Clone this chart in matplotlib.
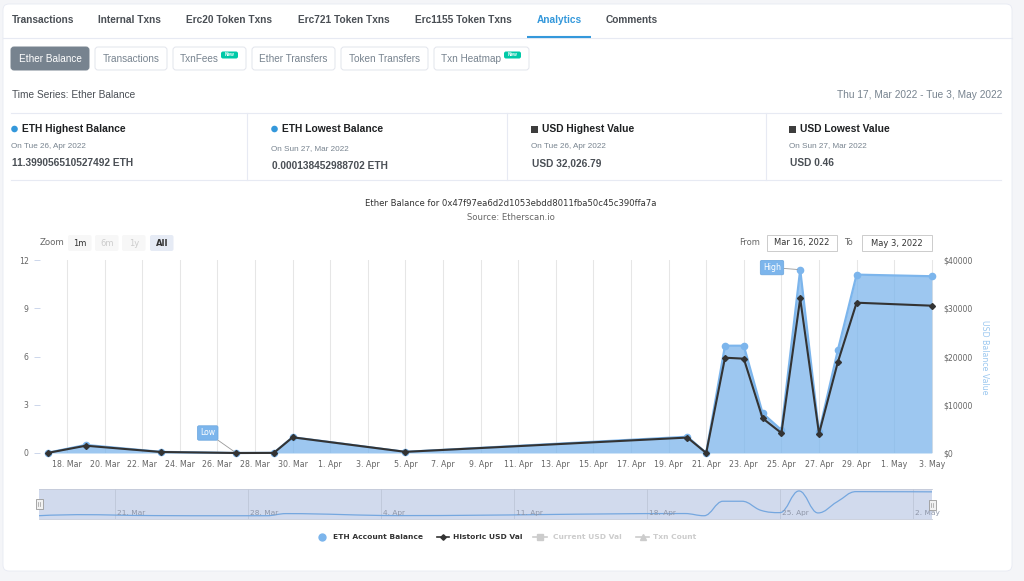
import matplotlib
matplotlib.use("Agg")
import matplotlib.pyplot as plt
import matplotlib.dates as mdates
import matplotlib.transforms as mtrans
import pandas as pd
from matplotlib.patches import FancyBboxPatch, Rectangle, Circle, PathPatch
from matplotlib.path import Path

W, H = 1024, 581

# ---- data ----
dates = ["2022-03-17", "2022-03-19", "2022-03-23", "2022-03-27", "2022-03-29",
         "2022-03-30", "2022-04-05", "2022-04-20", "2022-04-21", "2022-04-22",
         "2022-04-23", "2022-04-24", "2022-04-25", "2022-04-26", "2022-04-27",
         "2022-04-28", "2022-04-29", "2022-05-03"]
eth_balance = [0.02, 0.50, 0.07, 0.000138, 0.01, 0.98, 0.07, 1.01, 0.003, 6.67,
               6.67, 2.47, 1.43, 11.399, 1.29, 6.38, 11.09, 10.99]
usd_value = [40, 1510, 210, 0.46, 20, 3250, 240, 3200, 10, 19750,
             19550, 7190, 4140, 32026.79, 4000, 18800, 31150, 30530]

main_ticks = ["2022-03-18", "2022-03-20", "2022-03-22", "2022-03-24", "2022-03-26",
              "2022-03-28", "2022-03-30", "2022-04-01", "2022-04-03", "2022-04-05",
              "2022-04-07", "2022-04-09", "2022-04-11", "2022-04-13", "2022-04-15",
              "2022-04-17", "2022-04-19", "2022-04-21", "2022-04-23", "2022-04-25",
              "2022-04-27", "2022-04-29", "2022-05-01", "2022-05-03"]
nav_ticks = ["2022-03-21", "2022-03-28", "2022-04-04", "2022-04-11",
             "2022-04-18", "2022-04-25", "2022-05-02"]
eth_ticks = [0, 3, 6, 9, 12]
usd_ticks = [0, 10000, 20000, 30000, 40000]

tabs = ["Transactions", "Internal Txns", "Erc20 Token Txns", "Erc721 Token Txns",
        "Erc1155 Token Txns", "Analytics", "Comments"]
stats = [("ETH Highest Balance", "On Tue 26, Apr 2022", "11.399056510527492 ETH"),
         ("ETH Lowest Balance", "On Sun 27, Mar 2022", "0.000138452988702 ETH"),
         ("USD Highest Value", "On Tue 26, Apr 2022", "USD 32,026.79"),
         ("USD Lowest Value", "On Sun 27, Mar 2022", "USD 0.46")]

PAGE = "Liberation Sans"
BLUE = "#7cb5ec"
DARK = "#333333"

x = mdates.date2num(pd.to_datetime(dates))
tick_dt = pd.to_datetime(main_ticks)
nav_dt = pd.to_datetime(nav_ticks)


def fx(px):
    return px / W


def fy(py):
    return 1 - py / H


def spline_path(xs, ys):
    # highcharts style spline
    n = len(xs)
    lc, rc = [None] * n, [None] * n
    for i in range(1, n - 1):
        cx, cy = xs[i], ys[i]
        lx, ly = xs[i - 1], ys[i - 1]
        nx, ny = xs[i + 1], ys[i + 1]
        lcx, lcy = (1.5 * cx + lx) / 2.5, (1.5 * cy + ly) / 2.5
        rcx, rcy = (1.5 * cx + nx) / 2.5, (1.5 * cy + ny) / 2.5
        if rcx != lcx:
            corr = (rcy - lcy) * (rcx - cx) / (rcx - lcx) + cy - rcy
            lcy += corr
            rcy += corr
        if lcy > ly and lcy > cy:
            lcy = max(ly, cy); rcy = 2 * cy - lcy
        elif lcy < ly and lcy < cy:
            lcy = min(ly, cy); rcy = 2 * cy - lcy
        if rcy > ny and rcy > cy:
            rcy = max(ny, cy); lcy = 2 * cy - rcy
        elif rcy < ny and rcy < cy:
            rcy = min(ny, cy); lcy = 2 * cy - rcy
        lc[i], rc[i] = (lcx, lcy), (rcx, rcy)
    verts, codes = [(xs[0], ys[0])], [Path.MOVETO]
    for i in range(1, n):
        c1 = rc[i - 1] or (xs[i - 1], ys[i - 1])
        c2 = lc[i] or (xs[i], ys[i])
        verts += [c1, c2, (xs[i], ys[i])]
        codes += [Path.CURVE4] * 3
    return Path(verts, codes)


plt.rcParams["font.family"] = "DejaVu Sans"
fig = plt.figure(figsize=(W / 100, H / 100), dpi=100)
fig.patch.set_facecolor("#f4f5f8")

# ---- page background / card ----
bg = fig.add_axes([0, 0, 1, 1])
bg.set_xlim(0, W); bg.set_ylim(H, 0); bg.axis("off")
bg.add_patch(FancyBboxPatch((3, 4), 1009, 567, boxstyle="round,pad=0,rounding_size=6",
                            fc="white", ec="#e7eaf3", lw=0.6))

tab_x = [12, 98, 186, 298, 415, 537, 606]
for t, tx in zip(tabs, tab_x):
    bg.text(tx, 20, t, family=PAGE, weight="bold", size=7.3, va="center",
            color="#3498db" if t == "Analytics" else "#4a4f55")
bg.plot([3, 1012], [38, 38], color="#e7eaf3", lw=0.8)
bg.plot([527, 591], [37, 37], color="#3498db", lw=1.5, solid_capstyle="butt")

# sub buttons
btns = [("Ether Balance", 11, 78, False), ("Transactions", 95, 72, False),
        ("TxnFees", 173, 73, True), ("Ether Transfers", 252, 83, False),
        ("Token Transfers", 341, 87, False), ("Txn Heatmap", 434, 95, True)]
for i, (label, bx, bw, badge) in enumerate(btns):
    active = i == 0
    bg.add_patch(FancyBboxPatch((bx, 47), bw, 23, boxstyle="round,pad=0,rounding_size=3",
                                fc="#77838f" if active else "white",
                                ec="#77838f" if active else "#e2e5ec", lw=0.7))
    if badge:
        bg.text(bx + 7, 58.5, label, family=PAGE, size=7.2, va="center", color="#77838f")
        px0 = bx + bw - 25
        bg.add_patch(FancyBboxPatch((px0, 51.5), 17, 7, boxstyle="round,pad=0,rounding_size=2",
                                    fc="#00c9a7", ec="none"))
        bg.text(px0 + 8.5, 55, "New", family=PAGE, size=3.4, weight="bold",
                color="white", ha="center", va="center")
    else:
        bg.text(bx + bw / 2, 58.5, label, family=PAGE, size=7.2, va="center", ha="center",
                color="white" if active else "#77838f")

bg.text(12, 95, "Time Series: Ether Balance", family=PAGE, size=7.3, va="center", color="#4a4f55")
bg.text(1002, 95, "Thu 17, Mar 2022 - Tue 3, May 2022", family=PAGE, size=7.3,
        va="center", ha="right", color="#77838f")

# stats row
bg.plot([11, 1001], [113, 113], color="#e7eaf3", lw=0.8)
bg.plot([11, 1001], [180, 180], color="#e7eaf3", lw=0.8)
for dx in [247, 507, 766]:
    bg.plot([dx, dx], [113, 180], color="#e7eaf3", lw=0.8)
col_x = [11, 271, 531, 789]
date_y = [146, 149, 146, 146]
for j, ((head, when, val), cx) in enumerate(zip(stats, col_x)):
    if j < 2:
        bg.add_patch(Circle((cx + 3.5, 129), 3.3, fc="#3498db", ec="none"))
    else:
        bg.add_patch(Rectangle((cx, 126), 6.5, 6.5, fc="#3d3d3d", ec="none"))
    bg.text(cx + 11.5, 129, head, family=PAGE, weight="bold", size=7.4, va="center", color="#1e2022")
    bg.text(cx, date_y[j], when, family=PAGE, size=5.9, va="center", color="#77838f")
    bg.text(cx + 0.5, date_y[j] + 17, val, family=PAGE, weight="bold", size=7.3, va="center",
            color="#4a4f55")

# chart title
bg.text(511, 204, "Ether Balance for 0x47f97ea6d2d1053ebdd8011fba50c45c390ffa7a",
        size=6.1, ha="center", va="center", color="#333333")
bg.text(511, 217, "Source: Etherscan.io", size=6.1, ha="center", va="center", color="#666666")

# range selector
bg.text(40, 242.5, "Zoom", size=6.2, va="center", color="#666666")
for lab, zx, state in [("1m", 68, 0), ("6m", 95, 1), ("1y", 122, 1), ("All", 150, 2)]:
    bg.add_patch(FancyBboxPatch((zx, 235), 23.5, 16, boxstyle="round,pad=0,rounding_size=2",
                                fc="#e6ebf5" if state == 2 else "#f7f7f7", ec="none"))
    bg.text(zx + 11.75, 243, lab, size=6.0, ha="center", va="center",
            weight="bold" if state == 2 else "normal",
            color="#cccccc" if state == 1 else "#333333")
bg.text(739, 242.5, "From", size=6.0, va="center", color="#666666")
bg.text(844, 242.5, "To", size=6.0, va="center", color="#666666")
for d0, bx in [("Mar 16, 2022", 767), ("May 3, 2022", 862)]:
    bg.add_patch(Rectangle((bx, 235), 69.5, 16, fc="white", ec="#cccccc", lw=0.7))
    bg.text(bx + 34.75, 243, d0, size=6.0, ha="center", va="center", color="#333333")

bg.text(985, 357, "USD Balance Value", size=5.7, rotation=270, ha="center", va="center",
        color="#9cc8f0")

# legend
bg.plot([322], [537], "o", ms=6, color=BLUE, mec="none")
bg.text(333, 537, "ETH Account Balance", size=5.4, weight="bold", va="center", color="#333333")
bg.plot([437, 449], [537, 537], color=DARK, lw=1.2)
bg.plot([443], [537], "D", ms=2.8, color=DARK)
bg.text(453, 537, "Historic USD Val", size=5.4, weight="bold", va="center", color="#333333")
bg.plot([533, 547], [537, 537], color="#cccccc", lw=1.2)
bg.plot([540], [537], "s", ms=4, color="#cccccc")
bg.text(553, 537, "Current USD Val", size=5.4, weight="bold", va="center", color="#cccccc")
bg.plot([636, 649], [537, 537], color="#cccccc", lw=1.2)
bg.plot([642.5], [537], "^", ms=4, color="#cccccc")
bg.text(653, 537, "Txn Count", size=5.4, weight="bold", va="center", color="#cccccc")

# ---- main chart ----
L, R, T, B = 40, 935, 260, 453
base = mdates.date2num(pd.Timestamp("2022-03-18"))
ppd = 18.8  # px per day, Mar 18 sits at x=67
ax = fig.add_axes([fx(L), fy(B), (R - L) / W, (B - T) / H])
ax.set_facecolor("none")
ax.set_xlim(base + (L - 67) / ppd, base + (R - 67) / ppd)
ax.set_ylim(0, 12)
ax.fill_between(x, eth_balance, 0, color=BLUE, alpha=0.75, lw=0, zorder=2)
ax.plot(x, eth_balance, color=BLUE, lw=1.6, marker="o", ms=5.5, mec="none", zorder=3,
        clip_on=False)
ax.set_xticks(mdates.date2num(tick_dt))
ax.set_xticklabels([f"{d.day}. {d:%b}" for d in tick_dt])
ax.grid(axis="x", color="#e6e6e6", lw=0.75)
ax.set_axisbelow(True)
ax.set_yticks(eth_ticks)
ax.tick_params(axis="x", length=0, pad=5, labelsize=5.7, labelcolor="#666666")
ax.tick_params(axis="y", length=4.6, width=0.7, color="#ccd6eb", pad=3.6,
               labelsize=5.6, labelcolor="#666666")
for s in ax.spines.values():
    s.set_visible(False)

i_lo = min(range(len(eth_balance)), key=lambda k: eth_balance[k])
i_hi = max(range(len(eth_balance)), key=lambda k: eth_balance[k])
flag = dict(boxstyle="round,pad=0.35,rounding_size=0.2", fc=BLUE, ec="#6aa5dd", lw=0.5)
ax.annotate("Low", xy=(x[i_lo], eth_balance[i_lo]), xytext=(-20.5, 14.4),
            textcoords="offset points", ha="center", va="center", size=5.6, color="white",
            bbox=flag, zorder=6, annotation_clip=False,
            arrowprops=dict(arrowstyle="-", color="#999999", lw=0.6, shrinkA=0, shrinkB=2))
ax.annotate("High", xy=(x[i_hi], eth_balance[i_hi]), xytext=(-20.3, 1.5),
            textcoords="offset points", ha="center", va="center", size=5.6, color="white",
            bbox=flag, zorder=6, annotation_clip=False,
            arrowprops=dict(arrowstyle="-", color="#999999", lw=0.6, shrinkA=0, shrinkB=2))

ax2 = ax.twinx()
ax2.set_ylim(0, 40000)
ax2.plot(x, usd_value, color=DARK, lw=1.5, marker="D", ms=3.0, zorder=3, clip_on=False)
ax2.set_yticks(usd_ticks)
ax2.set_yticklabels([f"${v}" for v in usd_ticks])
ax2.tick_params(axis="y", length=0, pad=5.8, labelsize=5.6, labelcolor="#666666")
for s in ax2.spines.values():
    s.set_visible(False)

# ---- navigator ----
nav = fig.add_axes([fx(39), fy(519), (932 - 39) / W, 30 / H])
nav.set_facecolor("#d1daed")
n0 = mdates.date2num(pd.Timestamp("2022-03-17"))
nav.set_xlim(n0, n0 + 893 / 19)
nav.set_ylim(-1.5, 12.3)
nav.add_patch(PathPatch(spline_path(list(x), eth_balance), fc="none", ec="#75a7df", lw=0.9))
nav.set_xticks(mdates.date2num(nav_dt))
nav.grid(axis="x", color="#c0c9db", lw=0.7)
nav.set_axisbelow(True)
nav.tick_params(length=0, labelbottom=False, labelleft=False)
for k, s in nav.spines.items():
    s.set_visible(k in ("top", "bottom"))
    s.set_color("#c4cad8"); s.set_linewidth(0.6)
tr = mtrans.offset_copy(mtrans.blended_transform_factory(nav.transData, nav.transAxes),
                        fig=fig, x=2, units="dots")
for d in nav_dt:
    nav.text(mdates.date2num(d), 0.2, f"{d.day}. {d:%b}", transform=tr, size=5.3,
             va="center", color="#8e96a8", clip_on=False)

# handles on top
top = fig.add_axes([0, 0, 1, 1])
top.set_xlim(0, W); top.set_ylim(H, 0); top.axis("off")
for hx, hy in [(39, 499), (932, 500)]:
    top.add_patch(Rectangle((hx - 3, hy), 6.5, 10, fc="#f2f2f2", ec="#999999", lw=0.6))
    top.plot([hx - 0.9, hx - 0.9], [hy + 3, hy + 7], color="#999999", lw=0.5)
    top.plot([hx + 1.4, hx + 1.4], [hy + 3, hy + 7], color="#999999", lw=0.5)

fig.savefig("out.png", dpi=100, facecolor=fig.get_facecolor())
